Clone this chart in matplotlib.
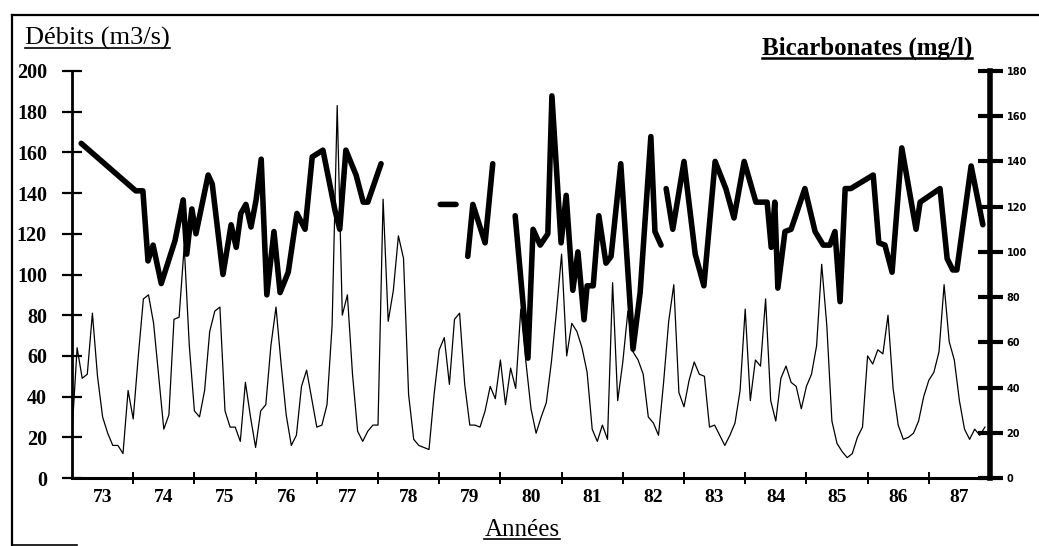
import numpy as np
import matplotlib
matplotlib.use("Agg")
import matplotlib.pyplot as plt
from matplotlib.lines import Line2D

# === Data ===
# monthly discharge, Jan 1973 -> Dec 1987 (m3/s)
debits = [
    22, 64, 49, 51, 81, 50, 30, 22, 16, 16, 12, 43,      # 73
    29, 60, 88, 90, 76, 50, 24, 31, 78, 79, 114, 65,     # 74
    33, 30, 43, 72, 82, 84, 33, 25, 25, 18, 47, 30,      # 75
    15, 33, 36, 65, 84, 56, 31, 16, 21, 45, 53, 39,      # 76
    25, 26, 36, 75, 183, 80, 90, 51, 23, 18, 23, 26,     # 77
    26, 137, 77, 92, 119, 108, 41, 19, 16, 15, 14, 41,   # 78
    63, 69, 46, 78, 81, 46, 26, 26, 25, 33, 45, 39,      # 79
    58, 36, 54, 44, 83, 57, 34, 22, 30, 37, 57, 82,      # 80
    110, 60, 76, 72, 64, 52, 24, 18, 26, 19, 96, 38,     # 81
    57, 82, 62, 58, 51, 30, 27, 21, 47, 77, 95, 42,      # 82
    35, 48, 57, 51, 50, 25, 26, 21, 16, 21, 27, 43,      # 83
    83, 38, 58, 55, 88, 38, 28, 49, 55, 47, 45, 34,      # 84
    45, 51, 65, 105, 75, 28, 17, 13, 10, 12, 20, 25,     # 85
    60, 56, 63, 61, 80, 44, 26, 19, 20, 22, 28, 40,      # 86
    48, 52, 62, 95, 67, 58, 38, 24, 19, 24, 21, 25,      # 87
]

# bicarbonate samples: time in months since Jan 1973, value in mg/l (nan = gap)
bic_mois = [
    1.8, 12.5, 13.9, 14.9, 15.9, 17.5, 20.2, 21.8, 22.5, 23.5, 24.3, 26.7,
    27.5, 29.6, 31.2, 32.2, 33.1, 34.1, 35.1, 36.1, 37.1, 38.2, 39.6, 40.8,
    42.4, 44.1, 45.7, 47.1, 49.2, 51.6, 52.5, 53.7, 55.7, 57.1, 58.0, 60.6,
    66.0,
    72.2, 75.3,
    76.5,
    77.6, 78.6, 81.0, 82.5,
    84.5,
    86.9, 89.4, 90.4, 91.8, 93.3, 94.1, 95.9, 96.9, 98.2, 99.2, 100.4, 101.0,
    102.2, 103.3, 104.7, 105.7, 107.6, 110.0, 111.4, 113.5, 114.3, 115.5,
    116.0,
    116.5, 117.8, 120.0, 122.2, 123.9, 126.1, 128.2, 129.8, 131.8, 134.1,
    136.3, 137.1, 137.8, 138.4, 139.8, 141.0, 143.7, 145.7, 147.3, 148.6,
    149.6, 150.6, 151.6, 152.7, 157.1, 158.2, 159.4, 160.8, 162.7, 165.5,
    166.3, 170.2, 171.6, 172.7, 173.5, 176.3, 178.6,
]
bic_val = [
    148, 127, 127, 96, 103, 86, 105, 123, 99, 119, 108, 134,
    130, 90, 112, 102, 117, 121, 111, 123, 141, 81, 109, 82,
    91, 117, 110, 142, 145, 118, 110, 145, 134, 122, 122, 139,
    np.nan,
    121, 121,
    np.nan,
    98, 121, 104, 139,
    np.nan,
    116, 53, 110, 103, 108, 169, 104, 125, 83, 100, 70, 85,
    85, 116, 95, 98, 139, 57, 82, 151, 109, 103,
    np.nan,
    128, 110, 140, 99, 85, 140, 128, 115, 140, 122,
    122, 102, 122, 84, 109, 110, 128, 109, 103, 103,
    109, 78, 128, 128, 134, 104, 103, 91, 146, 110,
    122, 128, 97, 92, 92, 138, 112,
]

annees = ["73", "74", "75", "76", "77", "78", "79", "80",
          "81", "82", "83", "84", "85", "86", "87"]

serif = "Liberation Serif"

# === Figure ===
W, H = 1039, 546
fig = plt.figure(figsize=(W / 100, H / 100), dpi=100)
ax = fig.add_axes([72 / W, 1 - 478 / H, (990 - 72) / W, (478 - 71) / H])
ax2 = ax.twinx()

mois = np.arange(len(debits))
ax.plot(mois, debits, color="black", lw=0.9)
ax2.plot(bic_mois, bic_val, color="black", lw=4.0,
         solid_joinstyle="round", solid_capstyle="round")

# left axis (discharge)
ax.set_xlim(0, 12 * len(annees))
ax.set_ylim(0, 200)
ax.set_yticks(range(0, 201, 20))
ax.tick_params(axis="y", direction="inout", length=14, width=1.6, pad=11)
for lab in ax.get_yticklabels():
    lab.set_fontfamily(serif)
    lab.set_fontweight("bold")
    lab.set_fontsize(14.5)

# x axis: year boundaries as tick marks, labels in the middle of each year
ax.set_xticks(np.arange(12, 12 * len(annees), 12), minor=True)
ax.set_xticks(np.arange(6, 12 * len(annees), 12))
ax.set_xticklabels(annees)
ax.tick_params(axis="x", which="major", length=0, pad=8)
ax.tick_params(axis="x", which="minor", direction="inout", length=9, width=1.4)
for lab in ax.get_xticklabels():
    lab.set_fontfamily(serif)
    lab.set_fontweight("bold")
    lab.set_fontsize(14)

for s in ["top", "right"]:
    ax.spines[s].set_visible(False)
ax.spines["left"].set_linewidth(2.0)
ax.spines["bottom"].set_linewidth(2.2)

# right axis (bicarbonates)
ax2.set_ylim(0, 180)
ax2.set_yticks(range(0, 181, 20))
ax2.tick_params(axis="y", direction="inout", length=18, width=3, pad=3,
                labelsize=7)
for lab in ax2.get_yticklabels():
    lab.set_fontweight("bold")
for s in ["top", "left", "bottom"]:
    ax2.spines[s].set_visible(False)
ax2.spines["right"].set_linewidth(4)

# === Titles (underlined) ===
t1 = fig.text(25 / W, 1 - 45 / H, "Débits (m3/s)", family=serif,
              fontsize=19, va="baseline", ha="left")
t2 = fig.text(972 / W, 1 - 55 / H, "Bicarbonates (mg/l)", family=serif,
              fontsize=18, fontweight="bold", va="baseline", ha="right")
t3 = fig.text(522 / W, 1 - 536 / H, "Années", family=serif,
              fontsize=18, va="baseline", ha="center")

fig.canvas.draw()
r = fig.canvas.get_renderer()
for t, lw in [(t1, 1.2), (t2, 1.8), (t3, 1.2)]:
    bb = t.get_window_extent(r)
    x0, x1 = bb.x0 / W, bb.x1 / W
    yb = t.get_position()[1] - 3 / H
    fig.add_artist(Line2D([x0, x1], [yb, yb], color="black", lw=lw,
                          transform=fig.transFigure))

# === Outer frame of the scan ===
fig.add_artist(Line2D([12 / W, 1.0], [1 - 15 / H, 1 - 15 / H], color="black",
                      lw=1.6, transform=fig.transFigure))
fig.add_artist(Line2D([12 / W, 12 / W], [1 - 15 / H, 0.0], color="black",
                      lw=1.6, transform=fig.transFigure))
fig.add_artist(Line2D([12 / W, 77 / W], [1 - 545 / H, 1 - 545 / H],
                      color="black", lw=1.2, transform=fig.transFigure))

fig.savefig("out.png", dpi=100)
